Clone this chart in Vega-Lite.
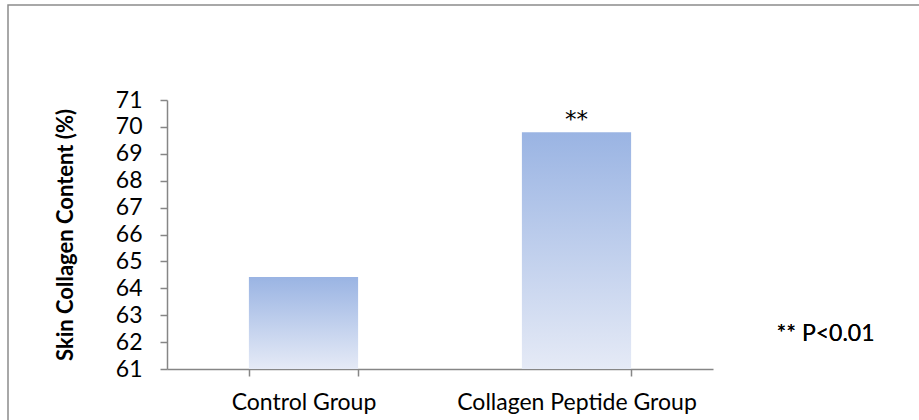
{
  "$schema": "https://vega.github.io/schema/vega-lite/v6.json",
  "width": 920,
  "height": 420,
  "autosize": {"type": "none"},
  "padding": {"left": 8, "top": 5, "right": 0, "bottom": 0},
  "background": "white",
  "config": {
    "view": {"stroke": "#8c8c8c", "strokeWidth": 1.5},
    "font": "Lato"
  },
  "data": {
    "values": [
      {"group": "Control Group", "value": 64.42, "sig": ""},
      {"group": "Collagen Peptide Group", "value": 69.8, "sig": "**"}
    ]
  },
  "layer": [
    {
      "mark": {
        "type": "bar",
        "color": {
          "gradient": "linear",
          "x1": 0, "y1": 0, "x2": 0, "y2": 1,
          "stops": [
            {"offset": 0, "color": "#9ab4e3"},
            {"offset": 1, "color": "#e5eaf6"}
          ]
        }
      },
      "encoding": {
        "x": {
          "field": "group",
          "type": "nominal",
          "sort": null,
          "scale": {"range": [159, 705], "paddingInner": 0.6, "paddingOuter": 0.3},
          "axis": {
            "title": null,
            "orient": "bottom",
            "offset": -56,
            "tickBand": "extent",
            "labelAngle": 0,
            "labelFontSize": 23,
            "labelColor": "black",
            "labelPadding": 15,
            "labelLimit": 0,
            "domainColor": "#868686",
            "tickColor": "#868686",
            "domainWidth": 1.5,
            "tickWidth": 1.5,
            "tickSize": 7
          }
        },
        "y": {
          "field": "value",
          "type": "quantitative",
          "scale": {"domain": [61, 71], "range": [364, 95], "zero": false, "nice": false},
          "axis": {
            "title": "Skin Collagen Content (%)",
            "values": [61, 62, 63, 64, 65, 66, 67, 68, 69, 70, 71],
            "offset": -159,
            "grid": false,
            "labelFontSize": 23,
            "labelColor": "black",
            "labelPadding": 18,
            "domainColor": "#868686",
            "tickColor": "#868686",
            "domainWidth": 1.5,
            "tickWidth": 1.5,
            "tickSize": 7,
            "titleFontSize": 22,
            "titleFontWeight": "bold",
            "titleColor": "black",
            "titlePadding": 38
          }
        },
        "y2": {"datum": 61}
      }
    },
    {
      "mark": {"type": "text", "baseline": "alphabetic", "dy": -5, "fontSize": 23, "color": "black", "font": "DejaVu Sans"},
      "encoding": {
        "x": {"field": "group", "type": "nominal", "sort": null},
        "y": {"field": "value", "type": "quantitative"},
        "text": {"field": "sig"}
      }
    },
    {
      "mark": {"type": "text", "align": "center", "baseline": "middle", "dx": 249, "fontSize": 23, "color": "black", "text": "** P<0.01"},
      "encoding": {
        "x": {"datum": "Collagen Peptide Group", "type": "nominal"},
        "y": {"datum": 62.3, "type": "quantitative"}
      }
    }
  ]
}
